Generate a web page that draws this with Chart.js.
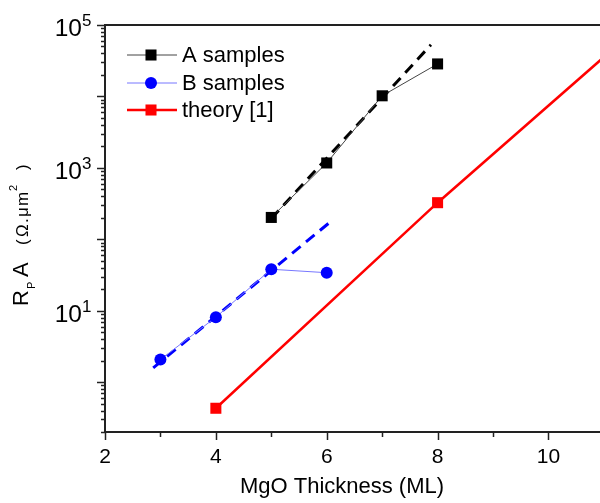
<!DOCTYPE html>
<html>
<head>
<meta charset="utf-8">
<script src="https://cdn.jsdelivr.net/npm/chart.js@4.4.0/dist/chart.umd.min.js"></script>
<style>
  html, body { margin: 0; padding: 0; background: #fff; }
</style>
</head>
<body>
<canvas id="chart" width="600" height="503"></canvas>
<script>
// ---------- DATA ----------
var aX = [5, 6, 7, 8];
var aY = [202, 1170, 10200, 28500];
var bX = [3, 4, 5, 6];
var bY = [2.07, 8.1, 38, 34];
var theoryX = [4, 8, 12];
var theoryY = [0.43, 325, 170000];
// dashed fits
var aFitX = [5, 7.88];
var aFitY = [195, 52800];
var bFitX = [2.87, 6.11];
var bFitY = [1.58, 187];
// axes
var xLabelTicks = [2, 4, 6, 8, 10];
var yLabelExps = [1, 3, 5];
var xTitle = "MgO Thickness (ML)";
var legendNames = ["A samples", "B samples", "theory [1]"];

var FONT = "'Liberation Sans', Arial, sans-serif";

function pts(xs, ys) {
  return xs.map(function (x, i) { return { x: x, y: ys[i] }; });
}

// ---------- PLUGIN: ticks, labels, legend ----------
var decorPlugin = {
  id: "decor",
  afterDraw: function (chart) {
    var ctx = chart.ctx;
    var xs = chart.scales.x, ys = chart.scales.y;
    var area = chart.chartArea;
    ctx.save();
    ctx.strokeStyle = "#222";
    ctx.lineWidth = 2;
    // top frame line
    ctx.beginPath();
    ctx.moveTo(area.left - 1, area.top);
    ctx.lineTo(area.right, area.top);
    ctx.stroke();

    // y ticks (log)
    ctx.lineWidth = 1.5;
    for (var d = -1; d <= 5; d++) {
      for (var k = 1; k <= 9; k++) {
        var v = k * Math.pow(10, d);
        if (v < ys.min - 1e-9 || v > ys.max + 1e-9) continue;
        var py = Math.round(ys.getPixelForValue(v)) + 0.5;
        var len = k === 1 ? 8 : 4;
        ctx.beginPath();
        ctx.moveTo(area.left - len, py);
        ctx.lineTo(area.left, py);
        ctx.stroke();
      }
    }
    // x ticks
    for (var t = Math.ceil(xs.min); t <= xs.max; t++) {
      var px = Math.round(xs.getPixelForValue(t)) + 0.5;
      var l = t % 2 === 0 ? 8 : 5;
      ctx.beginPath();
      ctx.moveTo(px, area.bottom);
      ctx.lineTo(px, area.bottom + l);
      ctx.stroke();
    }

    // y tick labels 10^n
    ctx.fillStyle = "#000";
    yLabelExps.forEach(function (e) {
      var py = ys.getPixelForValue(Math.pow(10, e));
      ctx.font = "24.5px " + FONT;
      ctx.textAlign = "right";
      ctx.textBaseline = "alphabetic";
      ctx.fillText("10", 82, py + 11);
      ctx.font = "17px " + FONT;
      ctx.textAlign = "left";
      ctx.fillText(String(e), 82, py + 1);
    });

    // x axis title
    ctx.font = "22px " + FONT;
    ctx.textAlign = "center";
    ctx.textBaseline = "middle";
    ctx.fillText(xTitle, 342, 487);

    // y axis title, rotated
    ctx.save();
    ctx.translate(28, 306);
    ctx.rotate(-Math.PI / 2);
    ctx.textAlign = "left";
    ctx.textBaseline = "alphabetic";
    function piece(txt, size, at, dy) {
      ctx.font = size + "px " + FONT;
      ctx.fillText(txt, at, dy);
    }
    piece("R", 22, 0, 0);
    piece("P", 11, 17, 7);
    piece("A", 22, 29, 0);
    piece("(", 17, 61, 0);
    piece("\u03A9", 17, 69, 0);
    piece(".", 17, 83, 0);
    piece("\u03BC", 17, 89, 0);
    piece("m", 17, 100, 0);
    piece("2", 11, 115, -11);
    piece(")", 17, 136, 0);
    ctx.restore();

    // legend
    var rows = [55, 83, 110];
    var sets = [chart.data.datasets[0], chart.data.datasets[1], chart.data.datasets[2]];
    sets.forEach(function (ds, i) {
      var y = rows[i];
      ctx.strokeStyle = ds.borderColor;
      ctx.lineWidth = ds.borderWidth;
      ctx.beginPath();
      ctx.moveTo(127, y);
      ctx.lineTo(177, y);
      ctx.stroke();
      ctx.fillStyle = ds.pointBackgroundColor;
      if (ds.pointStyle === "circle") {
        ctx.beginPath();
        ctx.arc(151, y, ds.pointRadius, 0, Math.PI * 2);
        ctx.fill();
      } else {
        var s = ds.pointRadius * Math.SQRT1_2;
        ctx.fillRect(151 - s, y - s, 2 * s, 2 * s);
      }
      ctx.fillStyle = "#000";
      ctx.font = "22px " + FONT;
      ctx.textAlign = "left";
      ctx.textBaseline = "middle";
      ctx.fillText(legendNames[i], 182, y + 1);
    });
    ctx.restore();
  }
};

// ---------- CHART ----------
new Chart(document.getElementById("chart"), {
  type: "line",
  data: {
    datasets: [{
      label: legendNames[0],
      data: pts(aX, aY),
      borderColor: "#444",
      borderWidth: 1,
      pointStyle: "rect",
      pointRadius: 7.8,
      pointBackgroundColor: "#000",
      pointBorderWidth: 0,
      order: 1
    }, {
      label: legendNames[1],
      data: pts(bX, bY),
      borderColor: "#7777ff",
      borderWidth: 1,
      pointStyle: "circle",
      pointRadius: 6,
      pointBackgroundColor: "#0000ff",
      pointBorderWidth: 0,
      order: 1
    }, {
      label: legendNames[2],
      data: pts(theoryX, theoryY),
      borderColor: "#ff0000",
      borderWidth: 2.5,
      pointStyle: "rect",
      pointRadius: 7.8,
      pointBackgroundColor: "#ff0000",
      pointBorderWidth: 0,
      order: 1
    }, {
      label: "A fit",
      data: pts(aFitX, aFitY),
      borderColor: "#000",
      borderWidth: 3,
      borderDash: [11, 7],
      pointRadius: 0,
      order: 2
    }, {
      label: "B fit",
      data: pts(bFitX, bFitY),
      borderColor: "#0000ff",
      borderWidth: 3,
      borderDash: [11, 7],
      pointRadius: 0,
      order: 2
    }]
  },
  options: {
    responsive: false,
    animation: false,
    layout: { autoPadding: false, padding: { top: 25, left: 0, right: 0, bottom: 0 } },
    plugins: {
      legend: { display: false },
      tooltip: { enabled: false }
    },
    scales: {
      x: {
        type: "linear",
        min: 2,
        max: 10.93,
        grid: { display: false, drawTicks: false },
        border: { display: true, color: "#222", width: 2 },
        ticks: {
          stepSize: 1,
          includeBounds: false,
          padding: 13,
          color: "#000",
          font: { family: FONT, size: 21 },
          maxRotation: 0,
          autoSkip: false,
          callback: function (v) {
            return xLabelTicks.indexOf(v) >= 0 ? String(v) : "";
          }
        },
        afterFit: function (s) { s.height = 71; s.paddingRight = 0; }
      },
      y: {
        type: "logarithmic",
        min: 0.2,
        max: 100000,
        grid: { display: false, drawTicks: false },
        border: { display: true, color: "#222", width: 2 },
        ticks: { callback: function () { return ""; } },
        afterFit: function (s) { s.width = 105; }
      }
    }
  },
  plugins: [decorPlugin]
});
</script>
</body>
</html>
